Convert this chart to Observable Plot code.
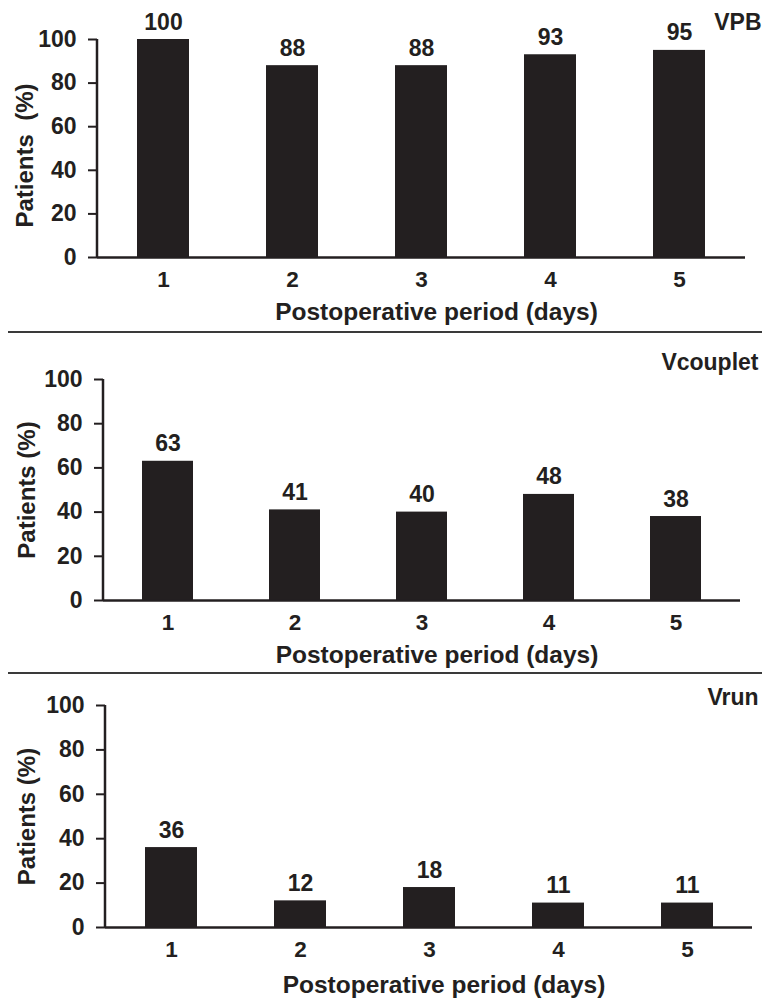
<!DOCTYPE html>
<html>
<head>
<meta charset="utf-8">
<script src="https://cdn.jsdelivr.net/npm/d3@7"></script>
<script src="https://cdn.jsdelivr.net/npm/@observablehq/plot@0.6"></script>
<style>
  html, body { margin: 0; padding: 0; background: #fff; }
  #wrap { position: relative; width: 762px; height: 1000px; overflow: hidden; }
  .panel { position: absolute; left: 0; }
  .sep { position: absolute; left: 8px; width: 754px; height: 2px; background: #3a3a3a; }
  svg text { white-space: pre; }
</style>
</head>
<body>
<div id="wrap"></div>
<script>
// ---- data ----
const days = ["1", "2", "3", "4", "5"];
const vpbValues = [100, 88, 88, 93, 95];
const vcoupletValues = [63, 41, 40, 48, 38];
const vrunValues = [36, 12, 18, 11, 11];
const yTicks = [0, 20, 40, 60, 80, 100];
const panelTitles = ["VPB", "Vcouplet", "Vrun"];
const yLabels = ["Patients  (%)", "Patients (%)", "Patients (%)"];
const xLabel = "Postoperative period (days)";

const ink = "#231f20";
const wrap = document.getElementById("wrap");

function panel(values, title, yLabel, L) {
  const data = days.map((d, i) => ({day: d, value: values[i]}));
  const chart = Plot.plot({
    width: 762,
    height: L.height,
    marginTop: L.mt, marginBottom: L.mb, marginLeft: L.ml, marginRight: L.mr,
    style: {fontFamily: "'Liberation Sans', Arial, sans-serif", fontWeight: "bold", fontSize: "22px", color: ink, background: "transparent", overflow: "visible"},
    x: {domain: days, paddingInner: 0.6, paddingOuter: 0.3, align: 0.5},
    y: {domain: [0, 100]},
    marks: [
      Plot.barY(data, {x: "day", y: "value", fill: ink}),
      Plot.ruleY([0], {stroke: ink, strokeWidth: 2.5}),
      Plot.axisY({ticks: yTicks, tickSize: 9, tickPadding: 12, tickFormat: d => String(d), label: null, stroke: ink, strokeWidth: 2, fontSize: 23}),
      Plot.axisX({tickSize: 0, tickPadding: 14, label: null, fontSize: 22.5}),
      Plot.text(data, {x: "day", y: "value", text: d => String(d.value), lineAnchor: "bottom", dy: -10, fontSize: 23}),
      Plot.text([title], {frameAnchor: "top-right", textAnchor: "end", lineAnchor: "middle", dx: L.tdx, dy: L.tdy, fontSize: 23}),
      Plot.text([xLabel], {frameAnchor: "bottom", textAnchor: "middle", lineAnchor: "middle", dx: 15, dy: L.xdy, fontSize: 24.5}),
      Plot.text([yLabel], {frameAnchor: "left", textAnchor: "middle", lineAnchor: "middle", rotate: -90, dx: L.ydx, dy: L.ydy, fontSize: 24})
    ]
  });
  const y = chart.scale("y");
  d3.select(chart).append("line")
    .attr("x1", L.ml).attr("x2", L.ml)
    .attr("y1", y.apply(0) + 1).attr("y2", y.apply(100))
    .attr("stroke", ink).attr("stroke-width", 2.5);
  const div = document.createElement("div");
  div.className = "panel";
  div.style.top = L.top + "px";
  div.appendChild(chart);
  wrap.appendChild(div);
}

panel(vpbValues, panelTitles[0], yLabels[0],
  {top: 0, height: 332, mt: 39, mb: 75, ml: 97, mr: 17, tdx: 16, tdy: -17, xdy: 55, ydx: -72, ydy: 7});
panel(vcoupletValues, panelTitles[1], yLabels[1],
  {top: 332, height: 341, mt: 47, mb: 73, ml: 103, mr: 22, tdx: 18, tdy: -17, xdy: 55, ydx: -76, ydy: 0});
panel(vrunValues, panelTitles[2], yLabels[2],
  {top: 673, height: 327, mt: 32, mb: 73, ml: 105, mr: 10, tdx: 6, tdy: -8, xdy: 58, ydx: -78, ydy: 0});

for (const t of [331, 672]) {
  const s = document.createElement("div");
  s.className = "sep";
  s.style.top = t + "px";
  wrap.appendChild(s);
}
</script>
</body>
</html>
